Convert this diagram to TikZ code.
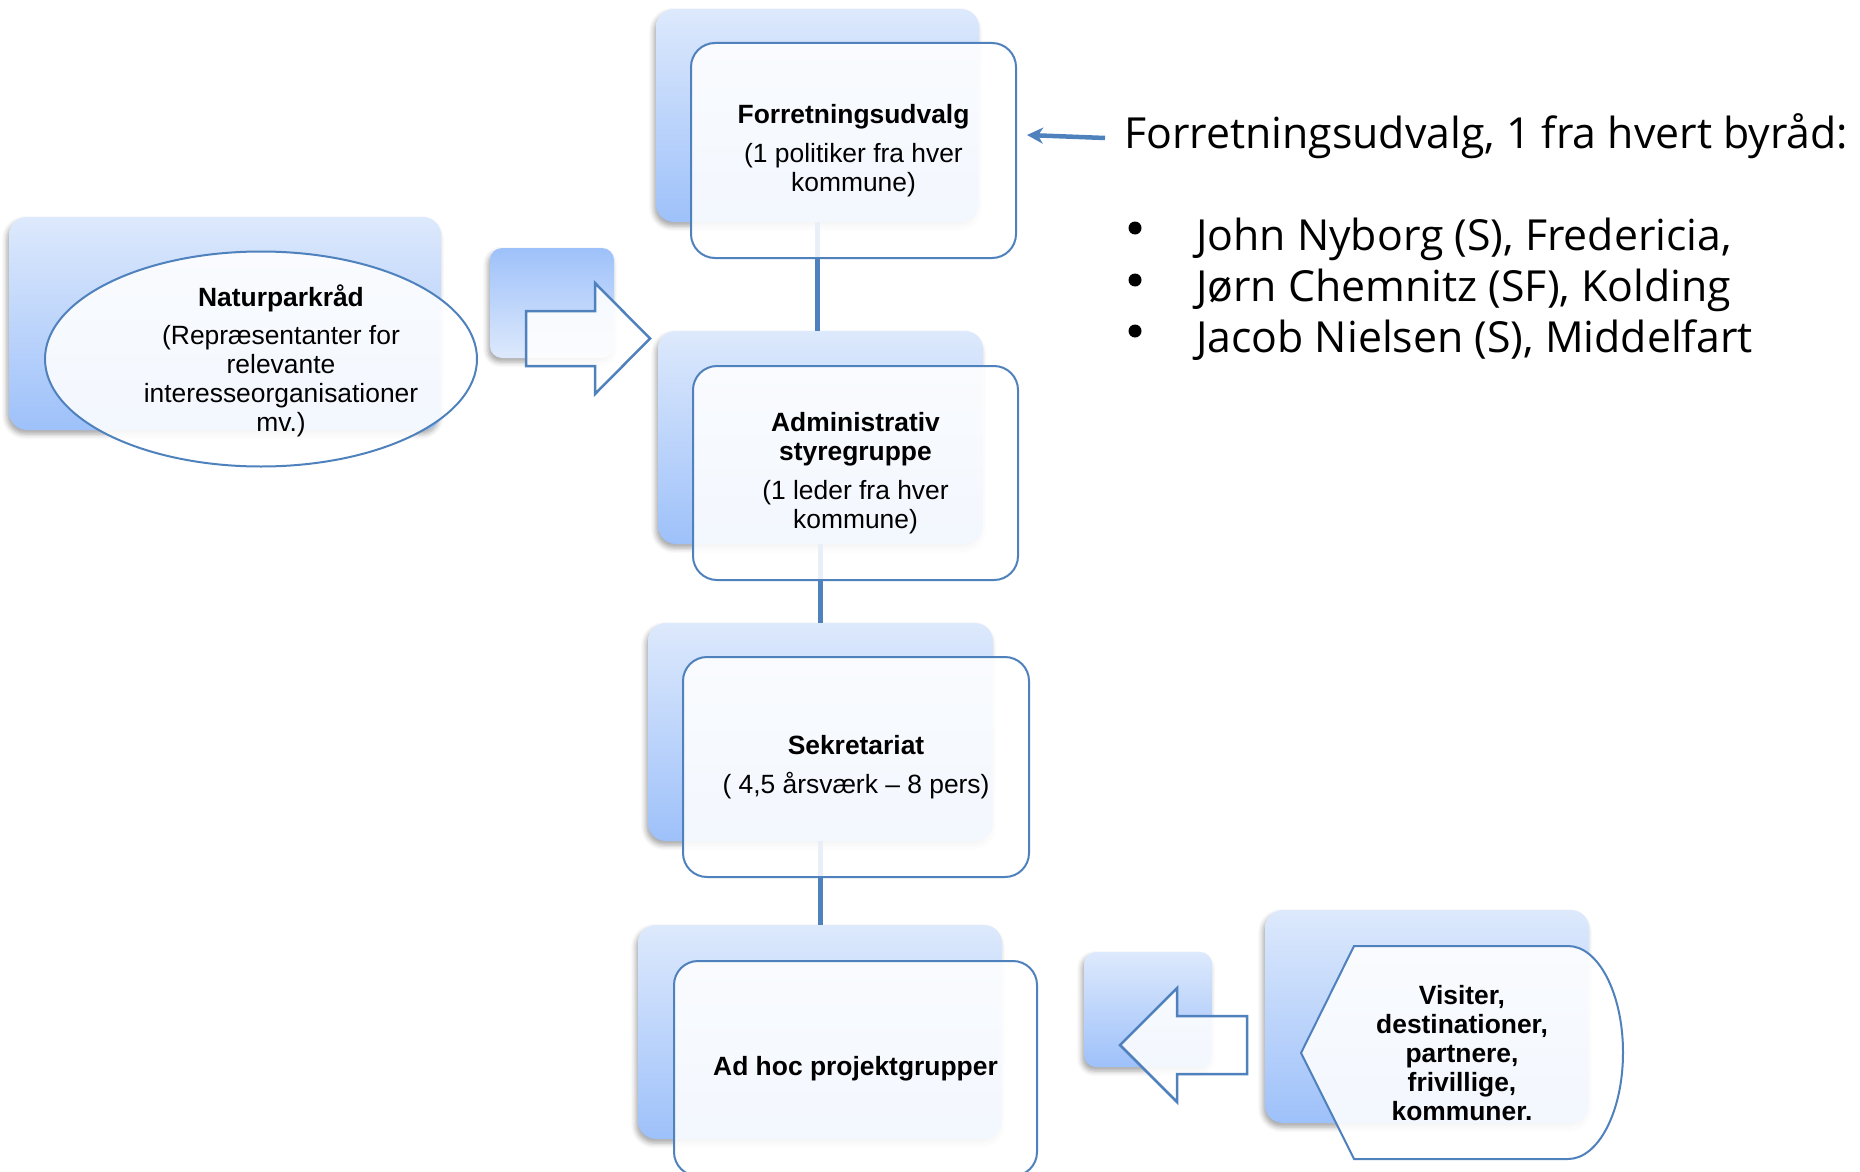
\documentclass[tikz,border=0pt]{standalone}
\usepackage{fontspec}
\setmainfont{Liberation Sans}
\newfontfamily\osans{Open Sans}
\usetikzlibrary{shapes.geometric,shadows.blur,arrows.meta}
\definecolor{gtop}{HTML}{DDE9FC}
\definecolor{gbot}{HTML}{9EC1FA}
\definecolor{bord}{HTML}{4F81BD}
\newcommand\boxfont{\fontsize{26.4}{29}\selectfont}
\newcommand\titlefont{\osans\fontsize{42.8}{50}\selectfont}
\tikzset{
  gradbox/.style={rounded corners=18pt, top color=gtop, bottom color=gbot, draw=none, inner sep=0pt,
    blur shadow={shadow xshift=-2pt, shadow yshift=-4pt, shadow blur radius=5pt, shadow opacity=35}},
  gradboxrev/.style={gradbox, top color=gbot, bottom color=gtop},
  whitebox/.style={rounded corners=24pt, draw=bord, line width=2pt, fill=white, fill opacity=0.88,
    text opacity=1, inner sep=0pt, align=center, font=\boxfont},
  ovalbox/.style={ellipse, draw=bord, line width=2pt, fill=white, fill opacity=0.88, inner sep=0pt},
  plaintext/.style={inner sep=0pt, align=center, font=\boxfont},
  link/.style={draw=bord, line width=4.5pt},
  blockarrow/.style={draw=bord, line width=2.5pt, fill=white, fill opacity=0.88, line join=miter},
  titlearrow/.style={draw=bord, line width=4.5pt, -{Stealth[length=16pt,width=16pt,inset=5pt]}},
  righttext/.style={anchor=base west, inner sep=0pt, font=\titlefont},
  bulletdot/.style={circle, fill=black, inner sep=0pt, minimum size=13pt}
}
\begin{document}
\begin{tikzpicture}[x=1pt,y=-1pt]
\useasboundingbox (0,0) rectangle (1860,1172);
% back gradient boxes
\node[gradbox, minimum width=323pt, minimum height=213pt] (g1) at (817.5,115.5) {};
\node[gradbox, minimum width=325pt, minimum height=213pt] (g2) at (820.5,437.5) {};
\node[gradbox, minimum width=345pt, minimum height=218pt] (g3) at (820.5,732) {};
\node[gradbox, minimum width=364pt, minimum height=214pt] (g4) at (820,1032) {};
\node[gradbox, minimum width=432pt, minimum height=213pt] (gN) at (225,323.5) {};
\node[gradbox, minimum width=324pt, minimum height=213pt] (gV) at (1427,1016.5) {};
\node[gradboxrev, rounded corners=12pt, minimum width=124pt, minimum height=110pt] (s1) at (552,303) {};
\node[gradbox, rounded corners=12pt, minimum width=128pt, minimum height=115pt] (s2) at (1148,1009.5) {};
% connectors
\draw[link] (g1.south) -- (g1.south |- g2.north);
\draw[link] (g2.south) -- (g2.south |- g3.north);
\draw[link] (g3.south) -- (g3.south |- g4.north);
% front boxes
\node[whitebox, minimum width=325pt, minimum height=215pt] (w1) at (853.5,150.5)
  {\textbf{Forretningsudvalg}\\[10pt](1 politiker fra hver\\kommune)};
\node[whitebox, minimum width=325pt, minimum height=214pt] (w2) at (855.5,473)
  {\textbf{Administrativ}\\\textbf{styregruppe}\\[10pt](1 leder fra hver\\kommune)};
\node[whitebox, minimum width=346pt, minimum height=220pt] (w3) at (856,767)
  {\textbf{Sekretariat}\\[10pt]( 4,5 årsværk – 8 pers)};
\node[whitebox, minimum width=363pt, minimum height=215pt] (w4) at (855.5,1068.5)
  {\textbf{Ad hoc projektgrupper}};
% Naturparkraad
\node[ovalbox, minimum width=432pt, minimum height=215pt] (eN) at (261,359) {};
\node[plaintext] (tN) at (281,361)
  {\textbf{Naturparkråd}\\[9pt](Repræsentanter for\\relevante\\interesseorganisationer\\mv.)};
% Visiter shape
\draw[draw=bord, line width=2pt, fill=white, fill opacity=0.88]
  (1301,1053) -- (1354,946) -- (1568,946)
  arc[start angle=90, end angle=-90, x radius=55pt, y radius=106.5pt]
  -- (1354,1159) -- cycle;
\node[plaintext] (tV) at (1462,1053)
  {\textbf{Visiter,}\\\textbf{destinationer,}\\\textbf{partnere,}\\\textbf{frivillige,}\\\textbf{kommuner.}};
% block arrows
\draw[blockarrow] (526,311) -- (595,311) -- (595,283) -- (650,338.5) -- (595,394) -- (595,366) -- (526,366) -- cycle;
\draw[blockarrow] (1247,1016) -- (1177,1016) -- (1177,988) -- (1120,1045) -- (1177,1102) -- (1177,1074) -- (1247,1074) -- cycle;
% right text
\node[righttext] (title) at (1124,148) {Forretningsudvalg, 1 fra hvert byråd:};
\node[righttext] (b1) at (1196,250) {John Nyborg (S), Fredericia,};
\node[righttext] (b2) at (1196,301) {Jørn Chemnitz (SF), Kolding};
\node[righttext] (b3) at (1196,352) {Jacob Nielsen (S), Middelfart};
\node[bulletdot] (d1) at (1135,228) {};
\node[bulletdot] (d2) at (1135,280) {};
\node[bulletdot] (d3) at (1135,331) {};
\coordinate (ta) at (1105,138);
\coordinate (tb) at (1027,135);
\draw[titlearrow] (ta) -- (tb);
\end{tikzpicture}
\end{document}
